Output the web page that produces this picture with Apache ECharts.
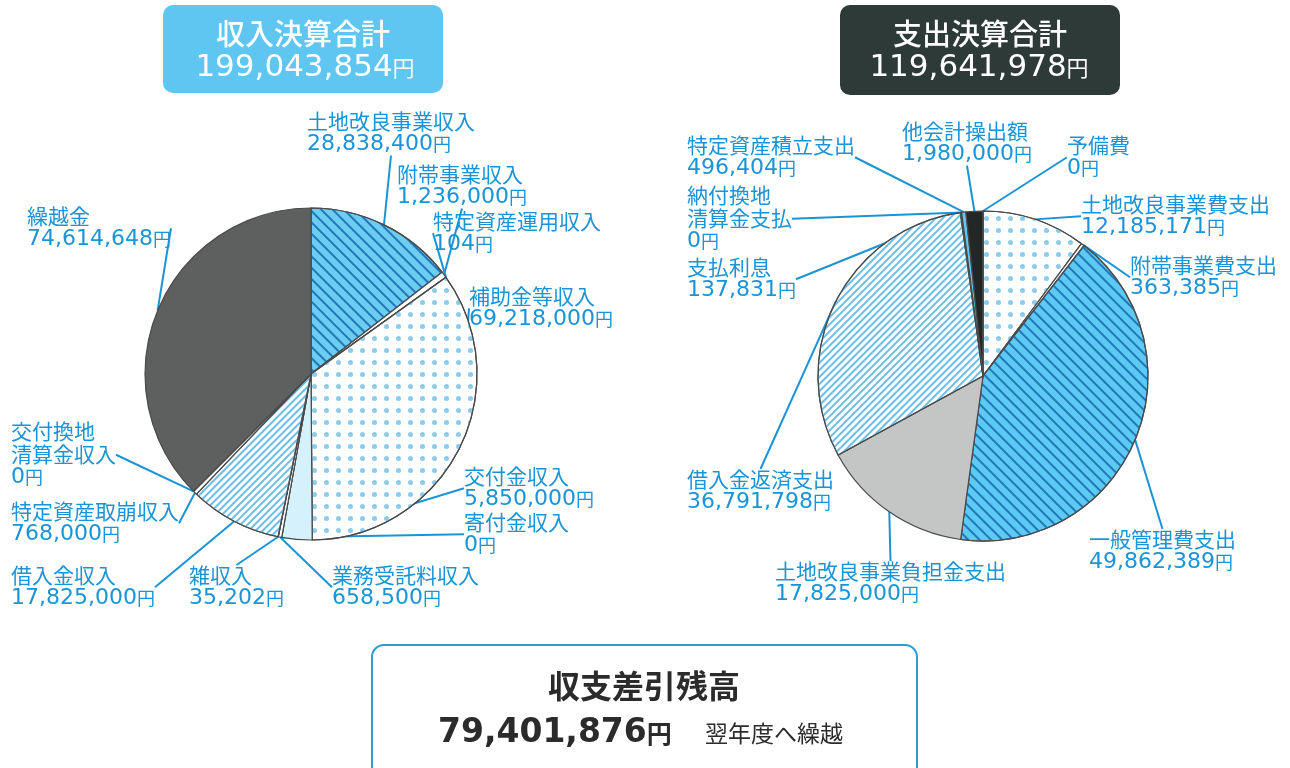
<!DOCTYPE html>
<html>
<head>
<meta charset="utf-8">
<script src="https://cdn.jsdelivr.net/npm/echarts@6/dist/echarts.min.js"></script>
<style>
html,body{margin:0;padding:0;background:#fff;}
#chart{width:1290px;height:768px;}
</style>
</head>
<body>
<div id="chart"></div>
<script>
// ---- data ----
const incomeNames = ['土地改良事業収入','附帯事業収入','特定資産運用収入','補助金等収入','交付金収入','寄付金収入','業務受託料収入','雑収入','借入金収入','特定資産取崩収入','交付換地\n清算金収入','繰越金'];
const incomeValues = [28838400,1236000,104,69218000,5850000,0,658500,35202,17825000,768000,0,74614648];
const expenseNames = ['土地改良事業費支出','附帯事業費支出','一般管理費支出','土地改良事業負担金支出','借入金返済支出','支払利息','納付換地\n清算金支払','特定資産積立支出','他会計操出額','予備費'];
const expenseValues = [12185171,363385,49862389,17825000,36791798,137831,0,496404,1980000,0];
const incomeTitle = '収入決算合計';
const incomeTotalText = '199,043,854';
const expenseTitle = '支出決算合計';
const expenseTotalText = '119,641,978';
const balanceTitle = '収支差引残高';
const balanceText = '79,401,876';
const balanceNote = '翌年度へ繰越';

// ---- styles / layout ----
const BLUE = '#1a94d6';
const stripesDark = {symbol:'rect', symbolSize:1, dashArrayX:[1,0], dashArrayY:[2,6], rotation:Math.PI/4, color:'#2277b8'};
const stripesLight = {symbol:'rect', symbolSize:1, dashArrayX:[1,0], dashArrayY:[2,3], rotation:-Math.PI/4, color:'#6cbde8'};
const dots = {symbol:'circle', symbolSize:1, dashArrayX:[5,7], dashArrayY:[5,7], rotation:0, color:'#8ccbea'};

const incomeStyles = [
  {color:'#6ccdf2', decal:stripesDark},
  {color:'#ffffff'},
  {color:'#ffffff'},
  {color:'#ffffff', decal:dots},
  {color:'#d4f1fc'},
  {color:'#ffffff'},
  {color:'#ffffff'},
  {color:'#ffffff'},
  {color:'#ffffff', decal:stripesLight},
  {color:'#ffffff'},
  {color:'#ffffff'},
  {color:'#5d605f'}
];
const expenseStyles = [
  {color:'#ffffff', decal:dots},
  {color:'#ffffff'},
  {color:'#5ccaf2', decal:stripesDark},
  {color:'#c4c6c6'},
  {color:'#ffffff', decal:stripesLight},
  {color:'#ffffff'},
  {color:'#ffffff'},
  {color:'#5ccaf2'},
  {color:'#232826'},
  {color:'#ffffff'}
];
const incomeLabelPos = [[307,110],[397,163],[433,210],[469,285],[464,465],[464,511],[332,564],[189,564],[11,564],[11,500],[11,420],[27,205]];
const expenseLabelPos = [[1081,193],[1130,254],[1089,528],[775,560],[687,468],[687,256],[687,184],[687,134],[902,120],[1067,134]];

const fmt = v => v.toLocaleString('en-US');
function labelText(name, value){
  const lines = name.split('\n').map(s => '{n|' + s + '}');
  return lines.join('\n') + '\n{v|' + fmt(value) + '}{y|円}';
}
const rich = {
  n:{fontSize:21, fontFamily:'Noto Sans CJK JP', color:BLUE, lineHeight:23},
  v:{fontSize:22, fontFamily:'DejaVu Sans', color:BLUE, lineHeight:23},
  y:{fontSize:18, fontFamily:'Noto Sans CJK JP', color:BLUE, lineHeight:23}
};

function buildData(names, values, styles){
  return names.map((n,i) => ({name:n, value:values[i], itemStyle:styles[i]}));
}
function pieSeries(names, values, styles, center, radius, pos){
  return {
    type:'pie',
    center:center,
    radius:radius,
    startAngle:90,
    clockwise:true,
    avoidLabelOverlap:false,
    silent:true,
    animation:false,
    itemStyle:{borderColor:'#4a4a4a', borderWidth:1.2},
    label:{show:true, position:'outside', formatter:p => labelText(p.name, p.value), rich:rich, align:'left'},
    labelLine:{show:true, length:8, length2:0, lineStyle:{color:BLUE, width:2}},
    labelLayout: p => ({x:pos[p.dataIndex][0], y:pos[p.dataIndex][1], align:'left', verticalAlign:'top'}),
    data:buildData(names, values, styles)
  };
}

const chart = echarts.init(document.getElementById('chart'));
chart.setOption({
  backgroundColor:'#ffffff',
  animation:false,
  graphic:[
    {type:'rect', shape:{x:163, y:5, width:280, height:88, r:10}, style:{fill:'#5ec6f0'}},
    {type:'text', style:{text:incomeTitle, x:303, y:34, fill:'#fff', font:'500 29px "Noto Sans CJK JP"', textAlign:'center', textVerticalAlign:'middle'}},
    {type:'text', style:{text:'{a|' + incomeTotalText + '}{b|円}', x:305, y:68, textAlign:'center', textVerticalAlign:'middle',
      rich:{a:{fontSize:31, fontFamily:'DejaVu Sans', fill:'#fff'}, b:{fontSize:22, fontFamily:'Noto Sans CJK JP', fill:'#fff'}}}},
    {type:'rect', shape:{x:840, y:5, width:280, height:90, r:10}, style:{fill:'#2e3a37'}},
    {type:'text', style:{text:expenseTitle, x:980, y:34, fill:'#fff', font:'500 29px "Noto Sans CJK JP"', textAlign:'center', textVerticalAlign:'middle'}},
    {type:'text', style:{text:'{a|' + expenseTotalText + '}{b|円}', x:979, y:68, textAlign:'center', textVerticalAlign:'middle',
      rich:{a:{fontSize:31, fontFamily:'DejaVu Sans', fill:'#fff'}, b:{fontSize:22, fontFamily:'Noto Sans CJK JP', fill:'#fff'}}}},
    {type:'rect', shape:{x:372, y:645, width:545, height:135, r:12}, style:{fill:'#fff', stroke:'#2f9ad6', lineWidth:2}},
    {type:'text', style:{text:balanceTitle, x:644, y:686, fill:'#2b2b2b', font:'bold 32px "Noto Sans CJK JP"', textAlign:'center', textVerticalAlign:'middle'}},
    {type:'text', style:{text:'{a|' + balanceText + '}{b|円}', x:438, y:733, textAlign:'left', textVerticalAlign:'middle',
      rich:{a:{fontSize:33, fontWeight:'bold', fontFamily:'DejaVu Sans', fill:'#2b2b2b'}, b:{fontSize:25, fontWeight:'bold', fontFamily:'Noto Sans CJK JP', fill:'#2b2b2b'}}}},
    {type:'text', style:{text:balanceNote, x:705, y:733, fill:'#2b2b2b', font:'23px "Noto Sans CJK JP"', textAlign:'left', textVerticalAlign:'middle'}}
  ],
  series:[
    pieSeries(incomeNames, incomeValues, incomeStyles, [311,374], 166, incomeLabelPos),
    pieSeries(expenseNames, expenseValues, expenseStyles, [983,376], 165, expenseLabelPos)
  ]
});
</script>
</body>
</html>
